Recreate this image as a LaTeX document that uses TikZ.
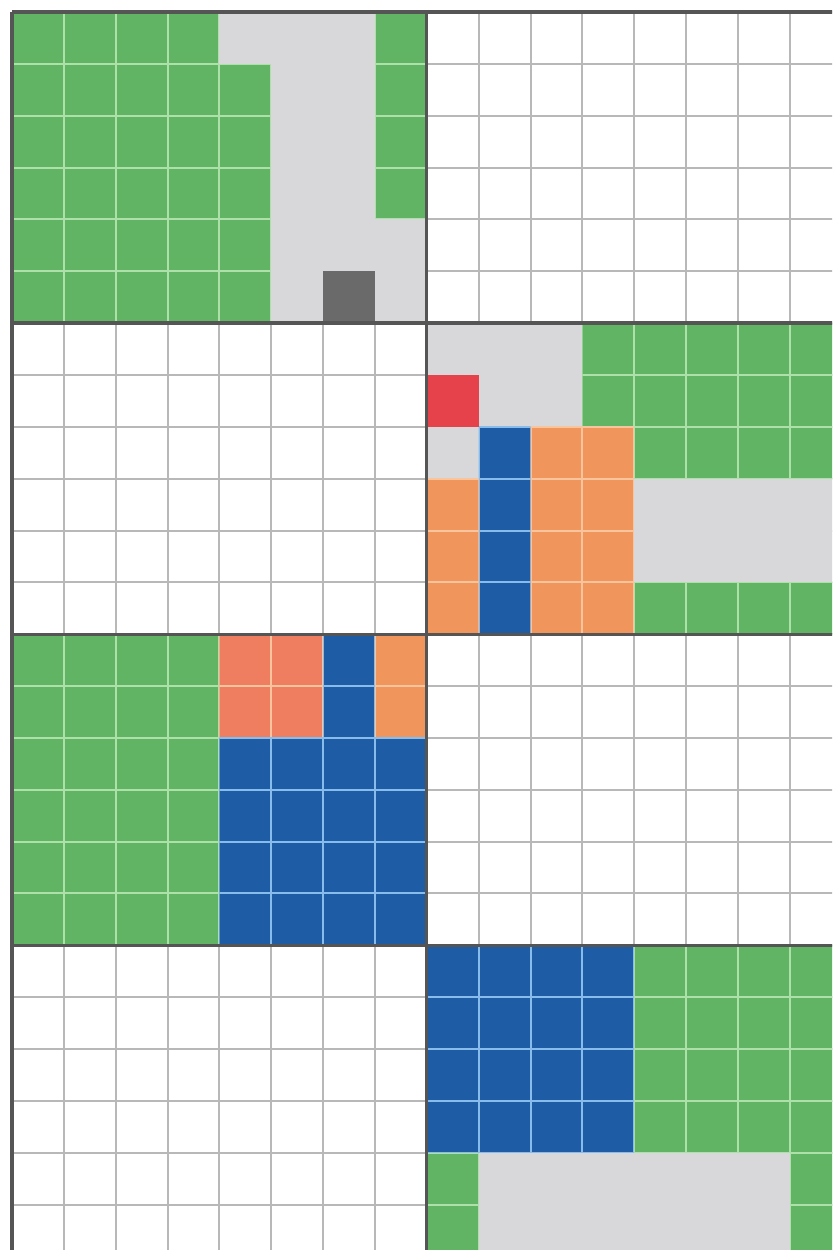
\documentclass[tikz,border=0pt]{standalone}
\definecolor{cgreen}{HTML}{60B464}
\definecolor{cgreenline}{HTML}{AEE0AA}
\definecolor{cblue}{HTML}{1E5DA6}
\definecolor{cblueline}{HTML}{88BDEB}
\definecolor{corange}{HTML}{F0955C}
\definecolor{corangeR}{HTML}{EE7E5F}
\definecolor{corangeline}{HTML}{F8C49E}
\definecolor{cred}{HTML}{E5424B}
\definecolor{cgray}{HTML}{D8D8DA}
\definecolor{cdark}{HTML}{6A6A6A}
\definecolor{cgrid}{HTML}{B8B8B8}
\definecolor{cborder}{HTML}{555555}
\tikzset{gridline/.style={line width=1.1pt},
         blockline/.style={cborder,line width=1.8pt}}
\newcommand\cellregion[6]{%
  \fill[#5] (#1,#2) rectangle (#3,#4);
  \begin{scope}
    \clip (#1,#2) rectangle (#3,#4);
    \foreach \i in {#1,...,#3} \draw[#6,gridline] (\i,#2) -- (\i,#4);
    \foreach \j in {#2,...,#4} \draw[#6,gridline] (#1,\j) -- (#3,\j);
  \end{scope}}
\newcommand\plainregion[5]{\fill[#5] (#1,#2) rectangle (#3,#4);}
\begin{document}
\begin{tikzpicture}[x=1cm,y=-1cm]
\useasboundingbox (-0.231,-0.231) rectangle (15.815,23.876);
\clip (-0.231,-0.231) rectangle (15.815,23.876);
\fill[white] (-0.231,-0.231) rectangle (15.815,23.876);
% base white grid
\cellregion{0}{0}{16}{24}{white}{cgrid}
% ---- block row 0, left
\cellregion{0}{0}{5}{6}{cgreen}{cgreenline}
\cellregion{7}{0}{8}{4}{cgreen}{cgreenline}
\plainregion{4}{0}{5}{1}{cgray}
\plainregion{5}{0}{7}{6}{cgray}
\plainregion{7}{4}{8}{6}{cgray}
\plainregion{6}{5}{7}{6}{cdark}
% ---- block row 1, right
\cellregion{11}{6}{16}{9}{cgreen}{cgreenline}
\cellregion{12}{11}{16}{12}{cgreen}{cgreenline}
\plainregion{8}{6}{11}{8}{cgray}
\plainregion{8}{7}{9}{8}{cred}
\plainregion{8}{8}{9}{9}{cgray}
\cellregion{9}{8}{10}{12}{cblue}{cblueline}
\cellregion{10}{8}{12}{12}{corange}{corangeline}
\cellregion{8}{9}{9}{12}{corange}{corangeline}
\plainregion{12}{9}{16}{11}{cgray}
% ---- block row 2, left
\cellregion{0}{12}{4}{18}{cgreen}{cgreenline}
\cellregion{4}{12}{6}{14}{corangeR}{corangeline}
\cellregion{7}{12}{8}{14}{corange}{corangeline}
\cellregion{6}{12}{7}{14}{cblue}{cblueline}
\cellregion{4}{14}{8}{18}{cblue}{cblueline}
% ---- block row 3, right
\cellregion{8}{18}{16}{24}{cgreen}{cgreenline}
\cellregion{8}{18}{12}{22}{cblue}{cblueline}
\plainregion{9}{22}{15}{24}{cgray}
% ---- block borders
\foreach \x in {0,8,16} \draw[blockline] (\x,0) -- (\x,24);
\foreach \y in {0,6,12,18,24} \draw[blockline] (0,\y) -- (16,\y);
\end{tikzpicture}
\end{document}
